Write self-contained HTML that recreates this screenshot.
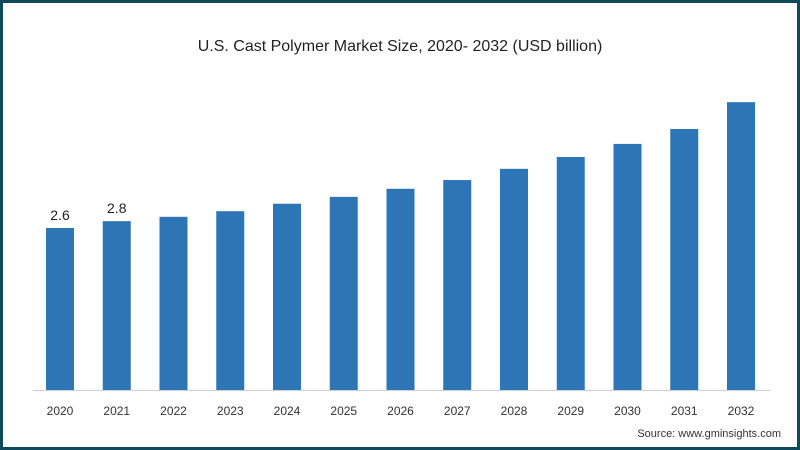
<!DOCTYPE html>
<html><head><meta charset="utf-8"><style>
body{margin:0;background:#fff;}
#wrap{position:relative;width:800px;height:450px;box-sizing:border-box;border:3px solid #0f4a5c;background:#fff;font-family:"Liberation Sans",sans-serif;}
</style></head><body>
<div id="wrap">
<svg id="chart" width="794" height="444" style="position:absolute;left:0;top:0">
<text x="397" y="48" text-anchor="middle" font-size="16" fill="#222">U.S. Cast Polymer Market Size, 2020- 2032 (USD billion)</text>
<text x="778" y="434" text-anchor="end" font-size="11" fill="#333">Source: www.gminsights.com</text>
</svg>
</div>
<script>
const categories=["2020","2021","2022","2023","2024","2025","2026","2027","2028","2029","2030","2031","2032"];
const values=[2.6,2.71,2.78,2.87,2.99,3.10,3.23,3.37,3.55,3.74,3.95,4.19,4.62];
const valueLabels=["2.6","2.8","","","","","","","","","","",""];
const svg=document.getElementById('chart');
const NS="http://www.w3.org/2000/svg";
const baseY=387, pxPerUnit=62.3, x0=43, step=56.75, bw=28;
const xScale=i=>x0+i*step;
const yScale=v=>baseY-v*pxPerUnit;
const axis=document.createElementNS(NS,'line');
axis.setAttribute('x1',30);axis.setAttribute('x2',768);axis.setAttribute('y1',baseY+0.5);axis.setAttribute('y2',baseY+0.5);
axis.setAttribute('stroke','#d0d0d0');


svg.appendChild(axis);
categories.forEach((c,i)=>{
  const r=document.createElementNS(NS,'rect');
  const y=yScale(values[i]);
  r.setAttribute('x',xScale(i));r.setAttribute('y',y);r.setAttribute('width',bw);r.setAttribute('height',baseY-y);
  r.setAttribute('fill','#2e75b6');
  
  
  svg.appendChild(r);
  const t=document.createElementNS(NS,'text');
  t.setAttribute('x',xScale(i)+bw/2);t.setAttribute('y',412);t.setAttribute('text-anchor','middle');
  t.setAttribute('font-size','12');t.setAttribute('fill','#333');
  t.textContent=c;
  
  
  svg.appendChild(t);
  if(valueLabels[i]){
    const l=document.createElementNS(NS,'text');
    l.setAttribute('x',xScale(i)+bw/2);l.setAttribute('y',y-8);l.setAttribute('text-anchor','middle');
    l.setAttribute('font-size','14');l.setAttribute('fill','#222');
    l.textContent=valueLabels[i];
    
    
    svg.appendChild(l);
  }
});
</script>
</body></html>
